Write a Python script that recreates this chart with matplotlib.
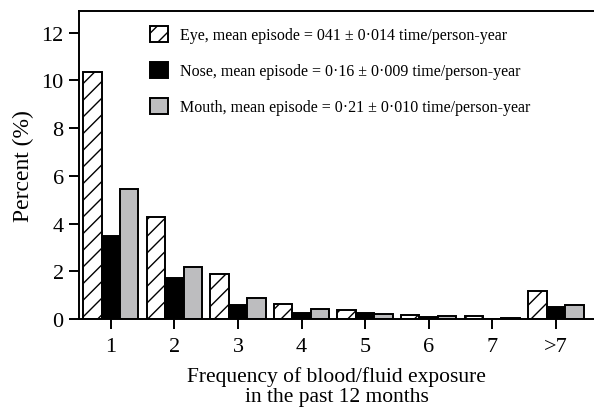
import matplotlib
matplotlib.use("Agg")
import matplotlib.pyplot as plt
import numpy as np

categories = ["1", "2", "3", "4", "5", "6", "7", ">7"]
eye = [10.36, 4.27, 1.89, 0.63, 0.39, 0.18, 0.13, 1.16]
nose = [3.48, 1.72, 0.59, 0.24, 0.24, 0.08, 0.02, 0.52]
mouth = [5.46, 2.18, 0.88, 0.42, 0.21, 0.14, 0.04, 0.59]
labels = [
    "Eye, mean episode = 041 \u00b1 0\u00b7014 time/person-year",
    "Nose, mean episode = 0\u00b716 \u00b1 0\u00b7009 time/person-year",
    "Mouth, mean episode = 0\u00b721 \u00b1 0\u00b7010 time/person-year",
]

plt.rcParams["font.family"] = ["Liberation Serif", "DejaVu Serif"]
plt.rcParams["hatch.linewidth"] = 1.0

fig = plt.figure(figsize=(5.94, 4.10), dpi=100)
ax = fig.add_axes([0.133, 0.2195, 0.867, 0.752])

x = np.arange(len(categories))
w = 0.29
ax.bar(x - w, eye, w, color="white", edgecolor="black", hatch="//", linewidth=1.4, label=labels[0])
ax.bar(x, nose, w, color="black", edgecolor="black", linewidth=1.4, label=labels[1])
ax.bar(x + w, mouth, w, color="#bdbdbf", edgecolor="black", linewidth=1.4, label=labels[2])

ax.set_xlim(-0.5, 7.6)
ax.set_ylim(0, 12.92)
ax.set_xticks(x)
ax.set_xticklabels(categories)
ax.set_yticks([0, 2, 4, 6, 8, 10, 12])
ax.tick_params(axis="both", direction="out", length=7, width=1.4, labelsize=16, pad=4)
ax.tick_params(axis="x", pad=6)
ax.spines["right"].set_visible(False)
for s in ["left", "top", "bottom"]:
    ax.spines[s].set_linewidth(1.4)

ax.set_ylabel("Percent (%)", fontsize=17, labelpad=5)
ax.set_xlabel("Frequency of blood/fluid exposure\nin the past 12 months", fontsize=15.5, labelpad=7, linespacing=1.12)

leg = ax.legend(loc="upper left", bbox_to_anchor=(150 / 594, 1 - 27 / 410), bbox_transform=fig.transFigure,
                frameon=False, fontsize=11.5, borderpad=0, borderaxespad=0,
                handlelength=1.12, handleheight=1.12, labelspacing=1.18, handletextpad=0.75)

fig.savefig("out.png", dpi=100)
